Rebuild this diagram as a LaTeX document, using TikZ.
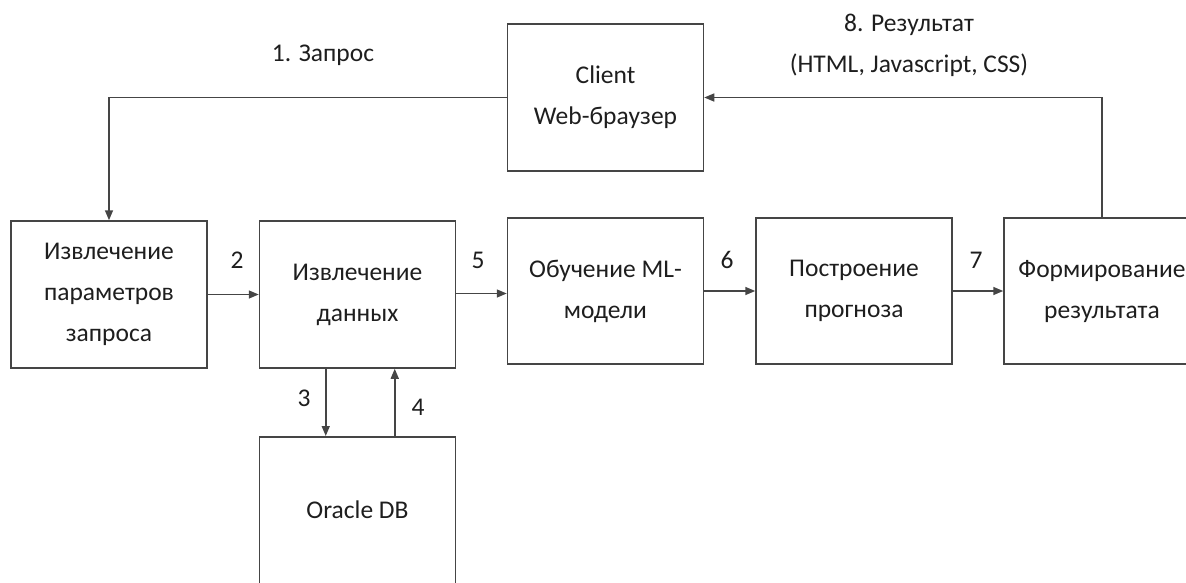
\documentclass[tikz,border=0pt]{standalone}
\usepackage{fontspec}
\setmainfont{Carlito}
\usetikzlibrary{arrows.meta,calc}
\definecolor{linec}{HTML}{454545}
\definecolor{textc}{HTML}{1E1E1E}
\begin{document}
\begin{tikzpicture}[x=1pt,y=-1pt,
  every node/.style={text=textc,font=\fontsize{25.5}{41}\selectfont},
  blk/.style={draw=linec,line width=1.5pt,rectangle,inner sep=0pt,align=center,
    minimum width=196pt,minimum height=147pt},
  arr/.style={draw=linec,line width=1.5pt,-{Triangle[length=10pt,width=8pt]}},
  lbl/.style={inner sep=0pt}]
\useasboundingbox (0,0) rectangle (1186,582);
\begin{scope}
\clip (0,0) rectangle (1186,582);
\node[blk] (client) at (605.5,97.5) {Client\\Web-браузер};
\node[blk] (par) at (109,294.5) {Извлечение\\параметров\\запроса};
\node[blk] (dat) at (357.5,294.5) {Извлечение\\данных};
\node[blk,minimum height=146pt] (ml) at (605.5,291) {Обучение ML-\\модели};
\node[blk,minimum height=146pt] (prog) at (854,291) {Построение\\прогноза};
\node[blk,minimum height=146pt] (form) at (1102,291) {Формирование\\результата};
\node[blk,minimum height=150pt,anchor=north] (ora) at (357.5,436) {};
\node at (357.5,510) {Oracle DB};
\end{scope}
\draw[arr] (client.west) -| (par.north);
\draw[arr] (form.north) |- (client.east);
\draw[arr] (par.east) -- (dat.west);
\draw[arr] ($(dat.east)+(0,-1)$) -- (ml.west |- {$(dat.east)+(0,-1)$});
\draw[arr] (ml.east) -- (prog.west);
\draw[arr] (prog.east) -- (form.west);
\draw[arr] ($(dat.south west)+(67,0)$) -- ($(ora.north west)+(67,0)$);
\draw[arr] ($(ora.north west)+(136,0)$) -- ($(dat.south west)+(136,0)$);
\node[lbl] (l1) at (323,55) {1. Запрос};
\node[lbl,align=center] (l8) at (909,45) {8. Результат\\(HTML, Javascript, CSS)};
\node[lbl] (l2) at (237,260) {2};
\node[lbl] (l5) at (478,260) {5};
\node[lbl] (l6) at (727,260) {6};
\node[lbl] (l7) at (976,260) {7};
\node[lbl] (l3) at (304,398) {3};
\node[lbl] (l4) at (418,407) {4};
\end{tikzpicture}
\end{document}
